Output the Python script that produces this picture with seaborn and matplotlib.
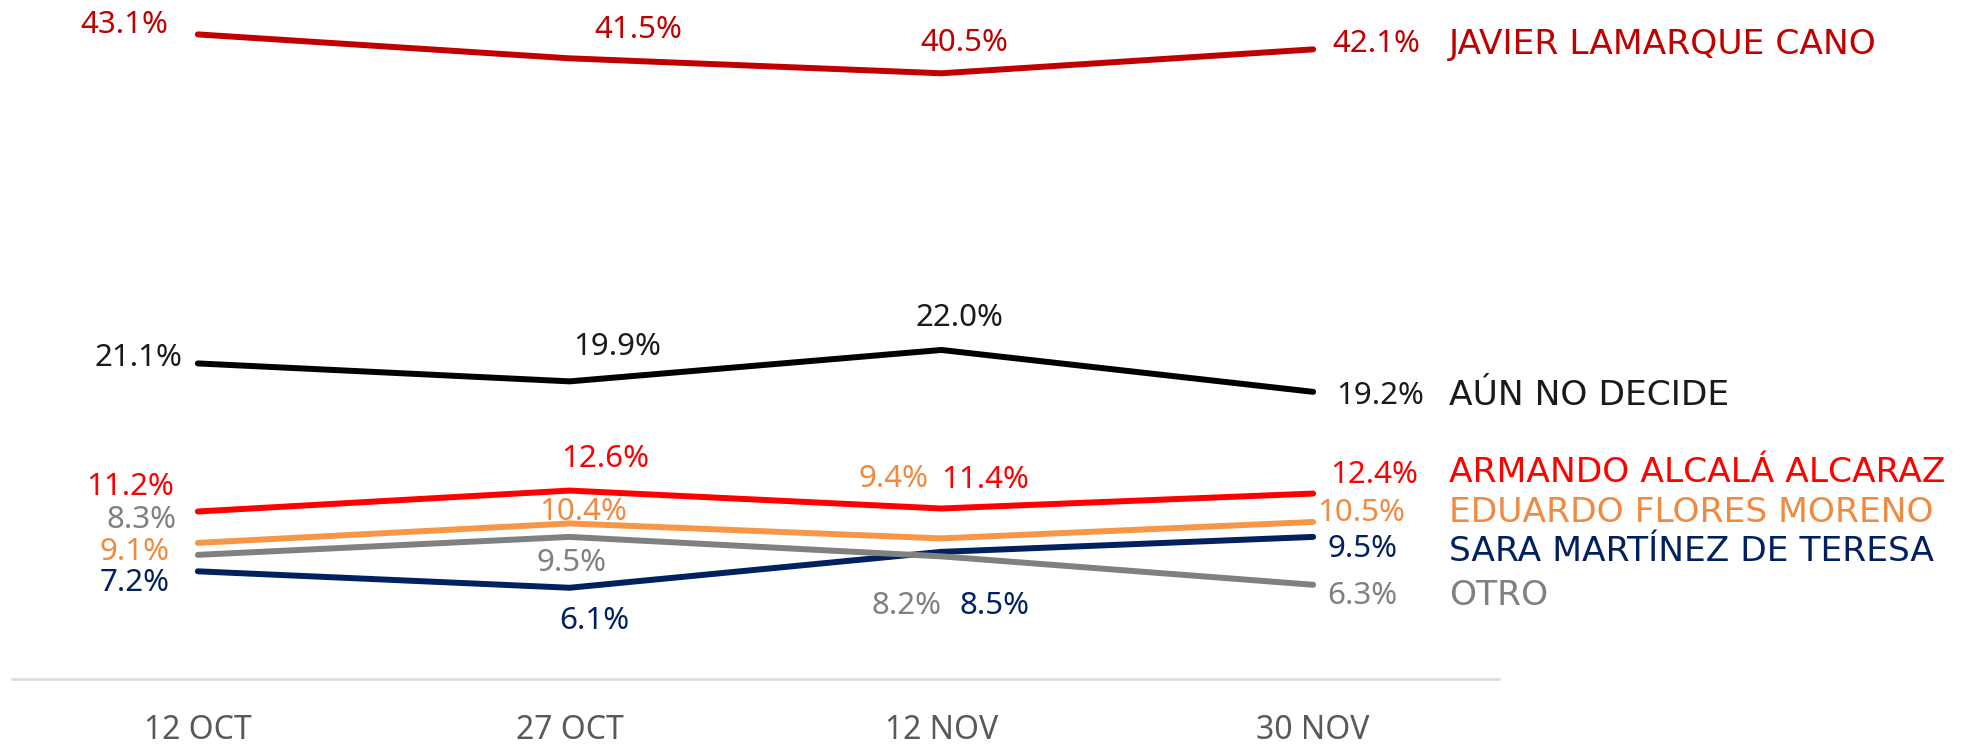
import pandas as pd
import matplotlib
matplotlib.use("Agg")
import matplotlib.pyplot as plt
import seaborn as sns

# Data
dates = ["12 OCT", "27 OCT", "12 NOV", "30 NOV"]
candidates = ["JAVIER LAMARQUE CANO", "AÚN NO DECIDE", "ARMANDO ALCALÁ ALCARAZ",
              "EDUARDO FLORES MORENO", "SARA MARTÍNEZ DE TERESA", "OTRO"]
javier = [43.1, 41.5, 40.5, 42.1]
aun_no_decide = [21.1, 19.9, 22.0, 19.2]
armando = [11.2, 12.6, 11.4, 12.4]
eduardo = [9.1, 10.4, 9.4, 10.5]
sara = [7.2, 6.1, 8.5, 9.5]
otro = [8.3, 9.5, 8.2, 6.3]
series = [javier, aun_no_decide, armando, eduardo, sara, otro]

line_colors = ["#C00000", "#000000", "#FF0000", "#F79646", "#002060", "#808080"]
text_colors = ["#C00000", "#1A1A1A", "#FF0000", "#F08A40", "#002060", "#808080"]

# label placement (ha, dx px, dy px) for each point, and dy for the series name
label_pos = [
    [("right", -30, 9), ("center", 69, 28), ("center", 23, 30), ("left", 19, 5)],
    [("right", -15, 5), ("center", 47, 34), ("center", 18, 32), ("left", 23, -4)],
    [("right", -24, 24), ("center", 36, 32), ("center", 44, 29), ("left", 17, 19)],
    [("right", -28, -9), ("center", 14, 11), ("center", -48, 59), ("left", 4, 9)],
    [("right", -28, -12), ("center", 25, -33), ("center", 53, -54), ("left", 14, -12)],
    [("right", -21, 35), ("center", 2, -26), ("center", -35, -50), ("left", 14, -11)],
]
name_dy = [5, -4, 21, 9, -15, -11]

rows = []
for name, vals in zip(candidates, series):
    for i, v in enumerate(vals):
        rows.append({"fecha": i, "valor": v, "candidato": name})
df = pd.DataFrame(rows)

sns.set_style("white")
plt.rcParams["font.family"] = ["Noto Sans", "DejaVu Sans"]

fig = plt.figure(figsize=(19.67, 7.46), dpi=100)
ax = fig.add_axes([12 / 1967, 67 / 746, 1487 / 1967, 679 / 746])

sns.lineplot(data=df, x="fecha", y="valor", hue="candidato", hue_order=candidates,
             palette=dict(zip(candidates, line_colors)), linewidth=4.3,
             solid_capstyle="round", legend=False, ax=ax)

fs = 22.5
for k, (name, vals) in enumerate(zip(candidates, series)):
    for i, v in enumerate(vals):
        ha, dx, dy = label_pos[k][i]
        ax.annotate(f"{v:.1f}%", (i, v), xytext=(dx, dy), textcoords="offset pixels",
                    ha=ha, va="center", fontsize=fs, color=text_colors[k])
    # series name to the right of the last point
    ax.annotate(name, (len(dates) - 1, vals[-1]), xytext=(136, name_dy[k]),
                textcoords="offset pixels", ha="left", va="center", fontsize=24.8,
                family="DejaVu Sans", color=text_colors[k], annotation_clip=False)

ax.set_xlim(-0.5, len(dates) - 0.5)
ax.set_ylim(0, 45.4)
ax.set_xticks(range(len(dates)))
ax.set_xticklabels(dates, fontsize=23, color="#595959")
ax.set_yticks([])
ax.set_xlabel("")
ax.set_ylabel("")
ax.tick_params(axis="x", length=0, pad=25)
for s in ["top", "left", "right"]:
    ax.spines[s].set_visible(False)
ax.spines["bottom"].set_color("#D9D9D9")
ax.spines["bottom"].set_linewidth(1.8)

fig.savefig("out.png", dpi=100)
